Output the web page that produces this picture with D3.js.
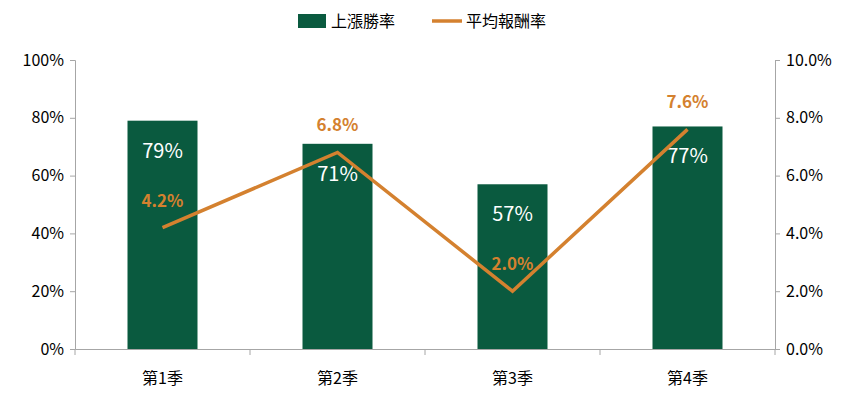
<!DOCTYPE html><html><head><meta charset="utf-8"><script src="https://cdn.jsdelivr.net/npm/d3@7"></script>
<style>body{margin:0;background:#fff}text{font-family:"Noto Sans CJK TC","Open Sans",sans-serif}</style></head><body><svg id="c" width="851" height="402"></svg>
<script>
const categories=["第1季","第2季","第3季","第4季"];
const winRate=[79,71,57,77];
const avgReturn=[4.2,6.8,2.0,7.6];
const leftTicks=[0,20,40,60,80,100];
const rightTicks=[0,2,4,6,8,10];
const barColor="#0a5a3f",lineColor="#d4812f",axisColor="#a6a6a6";
const svg=d3.select("#c");
const x=d3.scaleBand().domain(categories).range([75,775]).paddingInner(0.6).paddingOuter(0.3);
const xb=d3.scaleBand().domain(categories).range([75,775]);
const yL=d3.scaleLinear().domain([0,100]).range([349,60]);
const yR=d3.scaleLinear().domain([0,10]).range([349,60]);
svg.selectAll(".bar").data(winRate).join("rect").attr("x",(d,i)=>xb(categories[i])+xb.bandwidth()/2-35).attr("width",70)
 .attr("y",d=>yL(d)).attr("height",d=>349-yL(d)).attr("fill",barColor);
svg.selectAll(".bl").data(winRate).join("text").attr("x",(d,i)=>xb(categories[i])+xb.bandwidth()/2).attr("y",d=>yL(d)+37)
 .attr("text-anchor","middle").attr("fill","#fff").attr("font-size",20).attr("font-family","Open Sans").text(d=>d+"%");
const ax=svg.append("g").attr("transform","translate(0,349)").call(d3.axisBottom(xb).tickSize(0).tickPadding(24));
ax.select(".domain").attr("stroke",axisColor);
ax.selectAll("text").attr("font-size",16).attr("fill","#000").attr("font-family","Noto Sans CJK TC");
[0,1,2,3,4].forEach(i=>svg.append("line").attr("x1",75+i*175).attr("x2",75+i*175).attr("y1",349).attr("y2",355).attr("stroke",axisColor));
const gl=svg.append("g").attr("transform","translate(75,0)").call(d3.axisLeft(yL).tickValues(leftTicks).tickFormat(d=>d+"%").tickSize(5).tickPadding(6));
const gr=svg.append("g").attr("transform","translate(775,0)").call(d3.axisRight(yR).tickValues(rightTicks).tickFormat(d=>d.toFixed(1)+"%").tickSize(5).tickPadding(6));
[gl,gr].forEach(g=>{g.selectAll("path,line").attr("stroke",axisColor);g.selectAll("text").attr("font-size",16).attr("fill","#000").attr("font-family","Open Sans");});
const cx=i=>xb(categories[i])+xb.bandwidth()/2;
svg.append("path").datum(avgReturn).attr("d",d3.line().x((d,i)=>cx(i)).y(d=>yR(d))).attr("fill","none").attr("stroke",lineColor).attr("stroke-width",3.5);
svg.selectAll(".ll").data(avgReturn).join("text").attr("x",(d,i)=>cx(i)).attr("y",d=>yR(d)-21)
 .attr("text-anchor","middle").attr("fill",lineColor).attr("font-size",17).attr("font-weight","bold").attr("font-family","Open Sans").text(d=>d.toFixed(1)+"%");
svg.append("rect").attr("x",298).attr("y",14).attr("width",28).attr("height",14).attr("fill",barColor);
svg.append("text").attr("x",331).attr("y",27).attr("font-size",16).text("上漲勝率");
svg.append("line").attr("x1",432).attr("x2",462).attr("y1",21).attr("y2",21).attr("stroke",lineColor).attr("stroke-width",3.5);
svg.append("text").attr("x",466).attr("y",27).attr("font-size",16).text("平均報酬率");
</script></body></html>
